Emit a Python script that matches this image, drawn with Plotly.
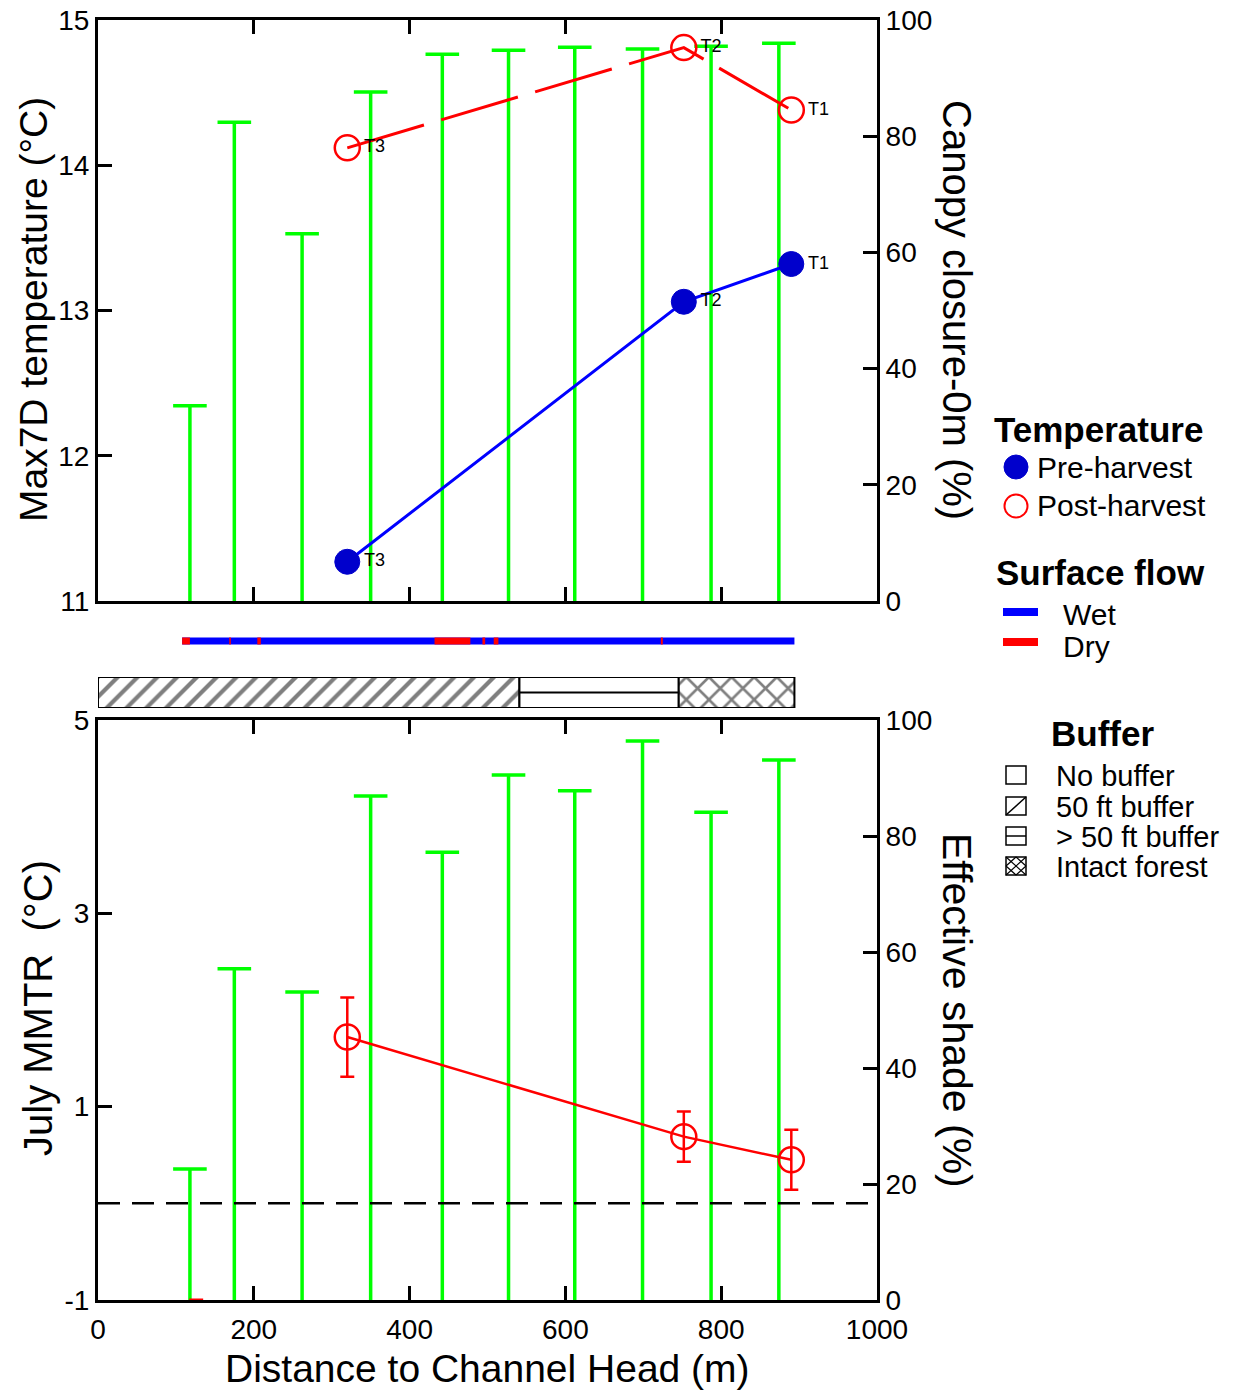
import plotly.graph_objects as go

# ---------------- data ----------------
site_distance_m = [118, 175, 262, 350, 442, 527, 612, 699, 787, 874]
canopy_closure_pct = [33.6, 82.4, 63.2, 87.6, 94.1, 94.8, 95.3, 95.0, 95.5, 96.0]
effective_shade_pct = [22.6, 57.1, 53.1, 86.9, 77.2, 90.5, 87.8, 96.4, 84.1, 93.1]

probe_labels = ["T3", "T2", "T1"]
probe_distance_m = [320, 752, 890]
max7d_pre_harvest = [11.27, 13.06, 13.32]
max7d_post_harvest = [14.12, 14.81, 14.38]
july_mmtr = [1.72, 0.69, 0.45]
july_mmtr_err = [0.41, 0.26, 0.31]
mmtr_reference = 0.0

wet_extent_m = [108, 894]
dry_start_m = [108, 168.5, 204.5, 432, 493.5, 508, 722.5]
dry_end_m = [118, 170.5, 209, 478, 497, 514, 725]
bottom_dry_m = [117, 135]

buffer_types = ["50 ft buffer", "> 50 ft buffer", "Intact forest"]
buffer_start_m = [0, 541, 745.5]
buffer_end_m = [541, 745.5, 894]
buffer_patterns = ["/", "", "x"]

x_range = [0, 1000]
x_ticks = [0, 200, 400, 600, 800, 1000]
temp_ticks = [11, 12, 13, 14, 15]
mmtr_ticks = [-1, 1, 3, 5]
pct_ticks = [0, 20, 40, 60, 80, 100]

# ---------------- geometry ----------------
W, H = 1257, 1392
PW, PH = 779, 1280
L, T = 98, 20
R = W - L - PW
B = H - T - PH


def px(xp):
    return (xp - L) / PW


def py(yp):
    return (T + PH - yp) / PH


FONT = "Liberation Sans, Arial, sans-serif"
GREEN = "#00ff00"
RED = "#ff0000"
BLUE = "#0000ff"
DBLUE = "#0000cc"

fig = go.Figure()


def stems(xs, vals):
    sx, sy = [], []
    for d, v in zip(xs, vals):
        sx += [d, d, None]
        sy += [0, v, None]
    return sx, sy


# --- top panel: canopy closure (right axis, base) ---
sx, sy = stems(site_distance_m, canopy_closure_pct)
fig.add_trace(go.Scatter(x=sx, y=sy, mode="lines", line=dict(color=GREEN, width=3.5),
                         xaxis="x", yaxis="y", showlegend=False, hoverinfo="skip"))
fig.add_trace(go.Scatter(x=site_distance_m, y=canopy_closure_pct, mode="markers",
                         marker=dict(symbol="line-ew", size=24, line=dict(color=GREEN, width=3.5)),
                         xaxis="x", yaxis="y", showlegend=False))

# --- top panel: temperatures (left axis, overlay) ---
fig.add_trace(go.Scatter(x=probe_distance_m, y=max7d_pre_harvest, mode="lines+markers+text",
                         text=probe_labels, textposition="middle right",
                         textfont=dict(size=18, family=FONT, color="black"),
                         line=dict(color=BLUE, width=3),
                         marker=dict(symbol="circle", size=25, color=DBLUE, line=dict(color=DBLUE, width=1)),
                         xaxis="x", yaxis="y2", showlegend=False))
fig.add_trace(go.Scatter(x=probe_distance_m, y=max7d_post_harvest, mode="lines+markers+text",
                         text=probe_labels, textposition="middle right",
                         textfont=dict(size=18, family=FONT, color="black"),
                         line=dict(color=RED, width=3, dash="80px,18px"),
                         marker=dict(symbol="circle-open", size=25, color=RED, line=dict(color=RED, width=2.5)),
                         xaxis="x", yaxis="y2", showlegend=False))

# --- surface flow bar ---
fig.add_trace(go.Scatter(x=wet_extent_m, y=[0, 0], mode="lines", line=dict(color=BLUE, width=7),
                         xaxis="x3", yaxis="y3", showlegend=False))
dx, dy = [], []
for a, b in zip(dry_start_m, dry_end_m):
    dx += [a, b, None]
    dy += [0, 0, None]
fig.add_trace(go.Scatter(x=dx, y=dy, mode="lines", line=dict(color=RED, width=7),
                         xaxis="x3", yaxis="y3", showlegend=False))

# --- buffer bar ---
fig.add_trace(go.Bar(orientation="h", y=[0] * len(buffer_types),
                     x=[e - s for s, e in zip(buffer_start_m, buffer_end_m)],
                     base=buffer_start_m, width=1,
                     marker=dict(color="white", line=dict(color="black", width=2),
                                 pattern=dict(shape=buffer_patterns, fgcolor="black", bgcolor="white",
                                              size=[14, 14, 16], solidity=[0.3, 0.3, 0.3])),
                     xaxis="x4", yaxis="y4", showlegend=False))
i_gt = buffer_types.index("> 50 ft buffer")
fig.add_trace(go.Scatter(x=[buffer_start_m[i_gt], buffer_end_m[i_gt]], y=[0, 0], mode="lines",
                         line=dict(color="black", width=2), xaxis="x4", yaxis="y4", showlegend=False))

# --- bottom panel: effective shade ---
sx, sy = stems(site_distance_m, effective_shade_pct)
fig.add_trace(go.Scatter(x=sx, y=sy, mode="lines", line=dict(color=GREEN, width=3.5),
                         xaxis="x2", yaxis="y5", showlegend=False, hoverinfo="skip"))
fig.add_trace(go.Scatter(x=site_distance_m, y=effective_shade_pct, mode="markers",
                         marker=dict(symbol="line-ew", size=24, line=dict(color=GREEN, width=3.5)),
                         xaxis="x2", yaxis="y5", showlegend=False))

# --- bottom panel: MMTR ---
fig.add_trace(go.Scatter(x=x_range, y=[mmtr_reference, mmtr_reference], mode="lines",
                         line=dict(color="black", width=2.5, dash="22px,12px"),
                         xaxis="x2", yaxis="y6", showlegend=False))
fig.add_trace(go.Scatter(x=probe_distance_m, y=july_mmtr, mode="lines+markers",
                         line=dict(color=RED, width=2.5),
                         marker=dict(symbol="circle-open", size=25, color=RED, line=dict(color=RED, width=2.5)),
                         error_y=dict(type="data", array=july_mmtr_err, color=RED, thickness=2.5, width=7),
                         xaxis="x2", yaxis="y6", showlegend=False))

# ---------------- axes ----------------
tickfont = dict(size=28, family=FONT, color="black")
ax = dict(showline=True, linecolor="black", linewidth=3, ticks="inside", ticklen=14,
          tickwidth=3, tickcolor="black", showgrid=False, zeroline=False, tickfont=tickfont,
          ticklabeloverflow="allow")

top_dom = [py(601), py(20)]
flow_dom = [py(652), py(630)]
buf_dom = [py(708), py(677)]
bot_dom = [py(1300), py(720)]

fig.update_layout(
    width=W, height=H, margin=dict(l=L, r=R, t=T, b=B, autoexpand=False),
    paper_bgcolor="white", plot_bgcolor="white",
    xaxis=dict(ax, domain=[0, 1], anchor="y", range=x_range, tickvals=x_ticks,
               showticklabels=False, mirror="ticks"),
    yaxis=dict(ax, domain=top_dom, anchor="x", side="right", range=[0, 100], tickvals=pct_ticks),
    yaxis2=dict(ax, overlaying="y", anchor="x", side="left", range=[11, 15], tickvals=temp_ticks),
    xaxis3=dict(domain=[0, 1], anchor="y3", range=x_range, visible=False),
    yaxis3=dict(domain=flow_dom, anchor="x3", range=[-1, 1], visible=False),
    xaxis4=dict(domain=[0, 1], anchor="y4", range=x_range, visible=False),
    yaxis4=dict(domain=buf_dom, anchor="x4", range=[-0.5, 0.5], visible=False),
    xaxis2=dict(ax, domain=[0, 1], anchor="y5", range=x_range, tickvals=x_ticks,
                ticktext=[str(v) for v in x_ticks], mirror="ticks", ticklabelstandoff=2),
    yaxis5=dict(ax, domain=bot_dom, anchor="x2", side="right", range=[0, 100], tickvals=pct_ticks),
    yaxis6=dict(ax, overlaying="y5", anchor="x2", side="left", range=[-1, 5], tickvals=mmtr_ticks,
                ticktext=[str(v) for v in mmtr_ticks]),
    barmode="overlay",
)

annotations = []
shapes = []


def txt(text, x, y, size, bold=False, angle=0, xanchor="left"):
    annotations.append(dict(text=f"<b>{text}</b>" if bold else text, x=x, y=y, xref="paper", yref="paper",
                            xanchor=xanchor, yanchor="middle", showarrow=False, textangle=angle,
                            font=dict(size=size, family=FONT, color="black")))


# axis titles
txt("Max7D temperature (°C)", px(33), py(310), 39, angle=-90, xanchor="center")
txt("Canopy closure-0m (%)", px(957), py(310), 40, angle=90, xanchor="center")
txt("July MMTR \u00a0(°C)", px(38), py(1008), 40, angle=-90, xanchor="center")
txt("Effective shade (%)", px(957), py(1010), 41, angle=90, xanchor="center")
txt("Distance to Channel Head (m)", px(487), py(1368), 39, xanchor="center")

# legend: Temperature
txt("Temperature", px(992), py(429), 35, bold=True)
shapes.append(dict(type="circle", xref="paper", yref="paper", xsizemode="pixel", ysizemode="pixel",
                   xanchor=px(1016), yanchor=py(467), x0=-12, x1=12, y0=-12, y1=12,
                   fillcolor=DBLUE, line=dict(color=DBLUE, width=1)))
txt("Pre-harvest", px(1035), py(467), 30)
shapes.append(dict(type="circle", xref="paper", yref="paper", xsizemode="pixel", ysizemode="pixel",
                   xanchor=px(1016), yanchor=py(506), x0=-11.5, x1=11.5, y0=-11.5, y1=11.5,
                   line=dict(color=RED, width=2)))
txt("Post-harvest", px(1035), py(506), 30)

# legend: Surface flow
txt("Surface flow", px(994), py(572), 35, bold=True)
for yc, col in [(612, BLUE), (642, RED)]:
    shapes.append(dict(type="line", xref="paper", yref="paper", x0=px(1003), x1=px(1038),
                       y0=py(yc), y1=py(yc), line=dict(color=col, width=8)))
txt("Wet", px(1061), py(614), 30)
txt("Dry", px(1061), py(646), 30)

# legend: Buffer
txt("Buffer", px(1049), py(733), 35, bold=True)
box_y = [775, 806, 836, 866]
box_labels = ["No buffer", "50 ft buffer", "> 50 ft buffer", "Intact forest"]
for yc, lab in zip(box_y, box_labels):
    base = dict(xref="paper", yref="paper", xsizemode="pixel", ysizemode="pixel",
                xanchor=px(1016), yanchor=py(yc))
    shapes.append(dict(base, type="rect", x0=-10, x1=10, y0=-9, y1=9, line=dict(color="black", width=1.5)))
    if lab == "50 ft buffer":
        shapes.append(dict(base, type="line", x0=-10, x1=10, y0=-9, y1=9, line=dict(color="black", width=1.5)))
    elif lab == "> 50 ft buffer":
        shapes.append(dict(base, type="line", x0=-10, x1=10, y0=0, y1=0, line=dict(color="black", width=1.5)))
    elif lab == "Intact forest":
        for (a, b, c, d) in [(-10, 0, 0, 9), (0, 9, 10, 0), (10, 0, 0, -9), (0, -9, -10, 0),
                             (-10, -9, 10, 9), (-10, 9, 10, -9)]:
            shapes.append(dict(base, type="line", x0=a, y0=b, x1=c, y1=d, line=dict(color="black", width=1.2)))
    txt(lab, px(1054), py(yc + 1), 29)

# short dry mark on the bottom axis
shapes.append(dict(type="line", xref="x2", yref="y6", x0=bottom_dry_m[0], x1=bottom_dry_m[1],
                   y0=-1, y1=-1, line=dict(color=RED, width=3), layer="above"))

fig.update_layout(annotations=annotations, shapes=shapes)
fig.write_html("out.html", config={"displayModeBar": False},
               post_script="document.body.style.margin='0px';document.body.style.overflow='hidden';")
